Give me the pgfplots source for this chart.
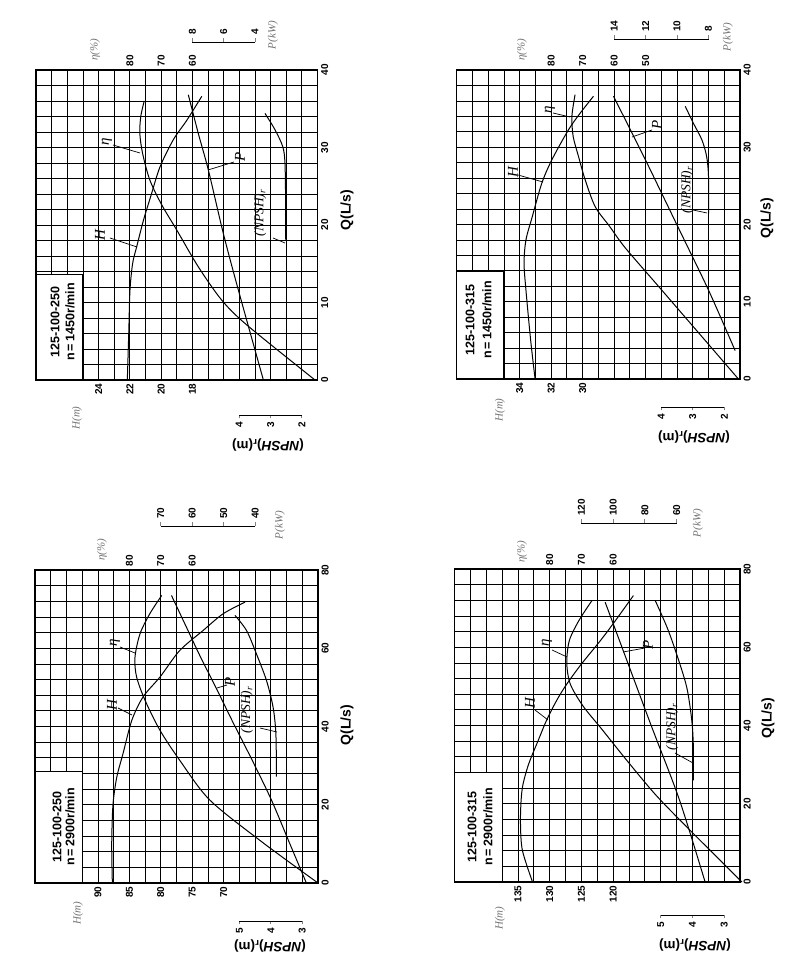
\documentclass[border=0pt]{standalone}
\usepackage{fontspec}
\setmainfont{Liberation Serif}
\setsansfont{Liberation Sans}
\usepackage{pgfplots}
\pgfplotsset{compat=1.18}

\newcommand\numfont{\fontsize{10}{10}\selectfont\sffamily\bfseries}

\pgfplotsset{
  pump/.style={scale only axis, anchor=south west, x dir=reverse, clip=false, ymin=0,
    /pgf/number format/assume math mode=true, tick label style={font=\numfont}},
  curve/.style={black, line width=1pt, smooth},
  gridax/.style={pump, grid=major, major grid style={black, line width=0.75pt},
    axis line style={black, line width=1.3pt}, major tick length=0pt,
    xticklabels={}, yticklabels={}, yticklabel pos=right,
    xticklabel style={rotate=90, anchor=east},
    yticklabel style={rotate=90, anchor=north},
    extra x tick style={grid=none}, extra y tick style={grid=none}},
  etaax/.style={pump, axis line style={draw=none}, major tick length=0pt, ytick=\empty,
    xticklabel pos=right, xticklabel style={rotate=90, anchor=west}},
  hid/.style={pump, hide axis},
  bar/.style={scale only axis, anchor=south west, x dir=reverse, height=1pt, ymin=0, ymax=1,
    hide y axis, x axis line style={-, line width=0.9pt}, xtick align=outside,
    major tick length=3.5pt, tick style={line width=0.9pt},
    /pgf/number format/assume math mode=true, tick label style={font=\numfont}},
  topbar/.style={bar, axis x line*=top, xticklabel pos=right,
    xticklabel style={rotate=90, anchor=west}},
  lowbar/.style={bar, axis x line*=bottom,
    xticklabel style={rotate=90, anchor=east}},
}

\tikzset{
  lbl/.style={font=\fontsize{15}{15}\selectfont\itshape, rotate=90, inner sep=0pt},
  nlbl/.style={font=\fontsize{13.5}{14}\selectfont\itshape, rotate=90, inner sep=0pt},
  ldr/.style={line width=0.7pt},
  boxt/.style={font=\fontsize{12.5}{13}\selectfont\sffamily\bfseries, rotate=90, inner sep=0pt},
  unit/.style={font=\fontsize{11}{11}\selectfont\itshape, text=black!55, rotate=90, inner sep=0pt},
  qlab/.style={font=\fontsize{14}{14}\selectfont\sffamily\bfseries, rotate=90, inner sep=0pt},
  npl/.style={font=\fontsize{13.5}{14}\selectfont\sffamily\bfseries, rotate=180, inner sep=0pt},
}

\begin{document}
\begin{tikzpicture}
\useasboundingbox[fill=white] (0,0) rectangle (800pt,964pt);

% ---------- 125-100-250, 1450 r/min (top left)
\begin{axis}[gridax, at={(36pt,584pt)}, width=281.5pt, height=310pt,
  xmin=10, xmax=28, ymax=40, xtick={10,...,28}, ytick={0,2,...,40},
  extra x ticks={18,20,22,24}, extra x tick labels={18,20,22,24},
  extra y ticks={0,10,20,30,40}, extra y tick labels={0,10,20,30,40}]
  \draw[fill=white, line width=1.1pt] (axis cs:28,0) rectangle (axis cs:25,13.6);
  \addplot[curve] coordinates {(22.16,0) (22.07,6) (21.99,11.6) (21.82,15.05) (21.56,17.2) (21.13,20.6) (20.67,23.65) (20.07,27.5) (19.22,31) (18.36,33.5) (17.4,36.6)};
\end{axis}
\begin{axis}[etaax, at={(36pt,584pt)}, width=281.5pt, height=310pt,
  xmin=20, xmax=110, ymax=40, xtick={60,70,80}]
  \addplot[curve] coordinates {(20.8,0) (42.6,7.1) (50.6,10.3) (58.1,14.6) (65,19.35) (69.8,22.6) (73.6,25.8) (75.9,29.2) (76.8,31.8) (76.5,34) (75.4,36)};
\end{axis}
\begin{axis}[hid, at={(36pt,584pt)}, width=281.5pt, height=310pt, xmin=0, xmax=18, ymax=40]
  \addplot[curve] coordinates {(3.46,0) (5.06,11.6) (6.02,18.9) (6.98,27.1) (7.62,31.8) (8.26,36.8)};
\end{axis}
\begin{axis}[hid, at={(36pt,584pt)}, width=281.5pt, height=310pt, xmin=1.5, xmax=10.5, ymax=40]
  \addplot[curve] coordinates {(3.18,34.4) (2.86,32.3) (2.61,30.1) (2.54,28) (2.52,23.2) (2.52,18.1)};
\end{axis}
\begin{axis}[topbar, at={(192.4pt,921pt)}, width=62.6pt, xmin=4, xmax=8, xtick={4,6,8}]
\end{axis}
\begin{axis}[lowbar, at={(239.3pt,549pt)}, width=62.6pt, xmin=2, xmax=4, xtick={2,3,4}]
\end{axis}

% ---------- 125-100-315, 1450 r/min (top right)
\begin{axis}[gridax, at={(456.7pt,585pt)}, width=283.3pt, height=309pt,
  xmin=20, xmax=38, ymax=40, xtick={20,...,38}, ytick={0,2,...,40},
  extra x ticks={30,32,34}, extra x tick labels={30,32,34},
  extra y ticks={0,10,20,30,40}, extra y tick labels={0,10,20,30,40}]
  \draw[fill=white, line width=1.1pt] (axis cs:38,0) rectangle (axis cs:35,13.9);
  \addplot[curve] coordinates {(33.02,0) (33.3,5) (33.6,11.5) (33.72,15) (33.6,18) (33.2,21) (32.6,25.3) (31.96,28.35) (30.9,32.25) (30.16,34.4) (29.31,36.6)};
\end{axis}
\begin{axis}[etaax, at={(456.7pt,585pt)}, width=283.3pt, height=309pt,
  xmin=20, xmax=110, ymax=40, xtick={50,60,70,80}]
  \addplot[curve] coordinates {(20.5,0) (33.2,6) (45.9,12) (56.5,17) (61.5,19.8) (66,22.3) (69.2,25.8) (71.3,28.8) (73,31.4) (73.4,34) (72.4,36.8)};
\end{axis}
\begin{axis}[hid, at={(456.7pt,585pt)}, width=283.3pt, height=309pt, xmin=6, xmax=24, ymax=40]
  \addplot[curve] coordinates {(6.31,3.68) (8.0,11.5) (9.9,19.5) (11.8,27.5) (12.9,32) (14.04,36.6)};
\end{axis}
\begin{axis}[hid, at={(456.7pt,585pt)}, width=283.3pt, height=309pt, xmin=1.5, xmax=10.5, ymax=40]
  \addplot[curve] coordinates {(3.24,35.3) (2.98,33.1) (2.71,30.95) (2.56,28.8) (2.5,26.2) (2.5,21.4)};
\end{axis}
\begin{axis}[topbar, at={(614.1pt,924pt)}, width=94.4pt, xmin=8, xmax=14, xtick={8,10,12,14}]
\end{axis}
\begin{axis}[lowbar, at={(661.3pt,557pt)}, width=63pt, xmin=2, xmax=4, xtick={2,3,4}]
\end{axis}

% ---------- 125-100-250, 2900 r/min (bottom left)
\begin{axis}[gridax, at={(35pt,81pt)}, width=283pt, height=313pt,
  xmin=55, xmax=100, ymax=80, xtick={55,57.5,...,100}, ytick={0,4,...,80},
  extra x ticks={70,75,80,85,90}, extra x tick labels={70,75,80,85,90},
  extra y ticks={0,20,40,60,80}, extra y tick labels={0,20,40,60,80}]
  \draw[fill=white, line width=1.1pt] (axis cs:100,0) rectangle (axis cs:92.5,28.4);
  \addplot[curve] coordinates {(87.7,0) (87.8,10) (87.6,20) (87.0,27) (86.0,33.1) (84.6,41.6) (82.8,47.6) (80.1,52.7) (77,59.4) (73.3,64.5) (70.1,68.8) (66.6,71.8)};
\end{axis}
\begin{axis}[etaax, at={(35pt,81pt)}, width=283pt, height=313pt,
  xmin=20, xmax=110, ymax=80, xtick={60,70,80}]
  \addplot[curve] coordinates {(20,0) (38,10.6) (54.4,21.2) (64,31.4) (70.3,39.1) (75,46.7) (77.7,52.7) (78.2,57.7) (76.6,63.7) (73.5,68.8) (69.7,73.5)};
\end{axis}
\begin{axis}[hid, at={(35pt,81pt)}, width=283pt, height=313pt, xmin=20, xmax=110, ymax=80]
  \addplot[curve] coordinates {(23.7,0) (29.2,10.5) (34.8,21.2) (41,31.5) (47,41) (52.3,49.7) (57.5,58) (62.2,66) (66.6,73.5)};
\end{axis}
\begin{axis}[hid, at={(35pt,81pt)}, width=283pt, height=313pt, xmin=2.5, xmax=11.5, ymax=80]
  \addplot[curve] coordinates {(5.14,68.4) (4.77,64.5) (4.46,58.6) (4.14,51.8) (3.93,45) (3.84,38.2) (3.82,27.2)};
\end{axis}
\begin{axis}[topbar, at={(160.8pt,437pt)}, width=94.3pt, xmin=40, xmax=70, xtick={40,50,60,70}]
\end{axis}
\begin{axis}[lowbar, at={(239.4pt,43pt)}, width=62.9pt, xmin=3, xmax=5, xtick={3,4,5}]
\end{axis}

% ---------- 125-100-315, 2900 r/min (bottom right)
\begin{axis}[gridax, at={(454.5pt,82pt)}, width=285.5pt, height=313pt,
  xmin=100, xmax=145, ymax=80, xtick={100,102.5,...,145}, ytick={0,4,...,80},
  extra x ticks={120,125,130,135}, extra x tick labels={120,125,130,135},
  extra y ticks={0,20,40,60,80}, extra y tick labels={0,20,40,60,80}]
  \draw[fill=white, line width=1.1pt] (axis cs:145,0) rectangle (axis cs:137.5,28);
  \addplot[curve] coordinates {(132.7,0) (134.3,8.1) (134.6,15) (134.5,20.9) (134.2,25) (133.3,30.2) (131.8,36.2) (130.5,41.3) (128.9,46.4) (127.3,50.6) (125,55.7) (122,61.7) (120,66) (116.8,73.2)};
\end{axis}
\begin{axis}[etaax, at={(454.5pt,82pt)}, width=285.5pt, height=313pt,
  xmin=20, xmax=110, ymax=80, xtick={60,70,80}]
  \addplot[curve] coordinates {(19.4,0) (27.3,6.4) (36.7,14) (46.5,22.2) (55.7,31.1) (63.5,39) (69.5,45) (73.5,50.6) (74.6,56) (73.8,61.7) (70.8,66.8) (66.7,71.9)};
\end{axis}
\begin{axis}[hid, at={(454.5pt,82pt)}, width=285.5pt, height=313pt, xmin=20, xmax=200, ymax=80]
  \addplot[curve] coordinates {(42,0) (58.2,21) (76,40) (93.5,59) (105,71.5)};
\end{axis}
\begin{axis}[hid, at={(454.5pt,82pt)}, width=285.5pt, height=313pt, xmin=2.5, xmax=11.5, ymax=80]
  \addplot[curve] coordinates {(5.17,71.9) (4.8,65.1) (4.5,58.3) (4.18,49.8) (4.02,41.3) (3.97,34.5) (3.97,26)};
\end{axis}
\begin{axis}[topbar, at={(581.4pt,440pt)}, width=95.2pt, xmin=60, xmax=120, xtick={60,80,100,120}]
\end{axis}
\begin{axis}[lowbar, at={(660.7pt,49pt)}, width=63.4pt, xmin=3, xmax=5, xtick={3,4,5}]
\end{axis}

% ---------- labels (positions in image pixels, y downwards)
\begin{scope}[x=1pt, y=-1pt, yshift=964pt]
  % top left
  \node[boxt] at (55,322) {125-100-250};
  \node[boxt] at (70,322) {n\,=\,1450r/min};
  \node[lbl] at (100,235) {H};   \draw[ldr] (110,238) -- (137,247);
  \node[lbl] at (107,142) {η};   \draw[ldr] (113,145) -- (140,153);
  \node[lbl] at (240,157) {P};   \draw[ldr] (234,162) -- (208,170);
  \node[nlbl] at (260,213) {(NPSH)\textsubscript{r}}; \draw[ldr] (273,238) -- (285,243);
  \node[qlab] at (347,210) {Q(L/s)};
  \node[unit] at (77,418) {H(m)};
  \node[unit] at (95,50) {η(\%)};
  \node[unit] at (273,35) {P(kW)};
  \node[npl] at (268,445) {(\textit{NPSH})\textsubscript{r}(m)};
  % top right
  \node[boxt] at (470,320) {125-100-315};
  \node[boxt] at (487,320) {n\,=\,1450r/min};
  \node[lbl] at (513,172) {H};   \draw[ldr] (518,175) -- (543,182);
  \node[lbl] at (550,110) {η};   \draw[ldr] (553,113) -- (570,117);
  \node[lbl] at (657,125) {P};   \draw[ldr] (652,130) -- (632,137);
  \node[nlbl] at (687,190) {(NPSH)\textsubscript{r}}; \draw[ldr] (693,210) -- (707,213);
  \node[qlab] at (767,218) {Q(L/s)};
  \node[unit] at (500,410) {H(m)};
  \node[unit] at (522,50) {η(\%)};
  \node[unit] at (728,37) {P(kW)};
  \node[npl] at (694,437) {(\textit{NPSH})\textsubscript{r}(m)};
  % bottom left
  \node[boxt] at (57,827) {125-100-250};
  \node[boxt] at (70,827) {n\,=\,2900r/min};
  \node[lbl] at (112,705) {H};   \draw[ldr] (118,708) -- (132,715);
  \node[lbl] at (115,643) {η};   \draw[ldr] (120,647) -- (135,653);
  \node[lbl] at (230,682) {P};   \draw[ldr] (227,685) -- (217,688);
  \node[nlbl] at (247,710) {(NPSH)\textsubscript{r}}; \draw[ldr] (260,728) -- (277,732);
  \node[qlab] at (347,725) {Q(L/s)};
  \node[unit] at (78,913) {H(m)};
  \node[unit] at (102,550) {η(\%)};
  \node[unit] at (280,525) {P(kW)};
  \node[npl] at (270,946) {(\textit{NPSH})\textsubscript{r}(m)};
  % bottom right
  \node[boxt] at (472,827) {125-100-315};
  \node[boxt] at (488,827) {n\,=\,2900r/min};
  \node[lbl] at (530,703) {H};   \draw[ldr] (535,710) -- (548,720);
  \node[lbl] at (547,643) {η};   \draw[ldr] (552,650) -- (567,657);
  \node[lbl] at (648,645) {P};   \draw[ldr] (645,648) -- (623,652);
  \node[nlbl] at (672,727) {(NPSH)\textsubscript{r}}; \draw[ldr] (675,753) -- (693,763);
  \node[qlab] at (768,718) {Q(L/s)};
  \node[unit] at (500,918) {H(m)};
  \node[unit] at (522,552) {η(\%)};
  \node[unit] at (698,523) {P(kW)};
  \node[npl] at (695,945) {(\textit{NPSH})\textsubscript{r}(m)};
\end{scope}
\end{tikzpicture}
\end{document}
